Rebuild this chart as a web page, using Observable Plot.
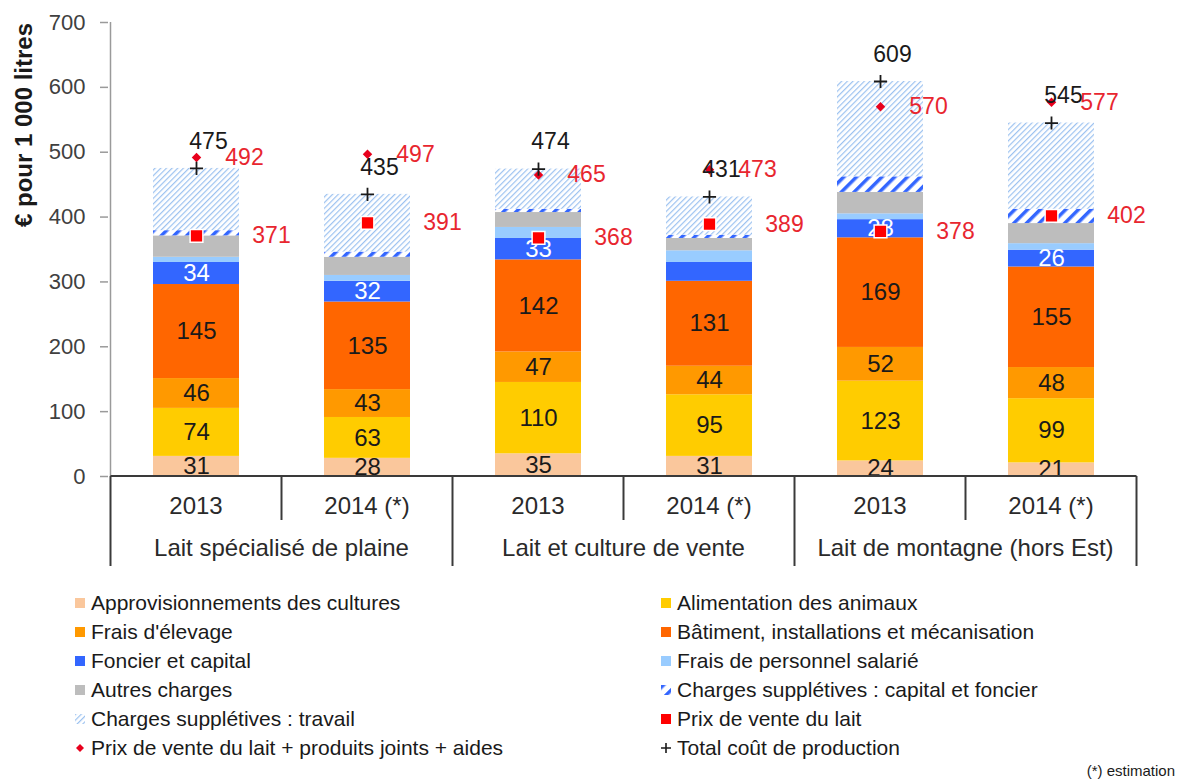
<!DOCTYPE html>
<html><head><meta charset="utf-8">
<script src="https://cdn.jsdelivr.net/npm/d3@7"></script>
<script src="https://cdn.jsdelivr.net/npm/@observablehq/plot@0.6"></script>
<style>
body{margin:0;background:#fff;font-family:"Liberation Sans",Arial,sans-serif;}
#chart{width:1184px;height:588px;overflow:visible}
#legend{display:grid;grid-template-columns:586px 523px;padding-left:75px;line-height:29px;font-size:21px;color:#1a1a1a}
.item{display:flex;align-items:center;white-space:nowrap}
.item svg{flex:none;margin-right:6px}
#note{text-align:right;font-size:15px;padding-right:9px;line-height:18px;color:#1a1a1a}
</style></head><body>
<div id="chart"></div><div id="legend"></div><div id="note">(*) estimation</div>
<script>
// ---- data ----
const groups = ["Lait spécialisé de plaine", "Lait et culture de vente", "Lait de montagne (hors Est)"];
const years = ["2013", "2014 (*)"];
const categories = [
  "Approvisionnements des cultures",
  "Alimentation des animaux",
  "Frais d'élevage",
  "Bâtiment, installations et mécanisation",
  "Foncier et capital",
  "Frais de personnel salarié",
  "Autres charges",
  "Charges supplétives : capital et foncier",
  "Charges supplétives : travail"
];
const approvisionnements = [31, 28, 35, 31, 24, 21];
const alimentation       = [74, 63, 110, 95, 123, 99];
const fraisElevage       = [46, 43, 47, 44, 52, 48];
const batiment           = [145, 135, 142, 131, 169, 155];
const foncier            = [34, 32, 33, 29, 28, 26];
const personnel          = [8, 9, 17, 18, 9, 10];
const autres             = [33, 28, 23, 19, 33, 31];
const suppCapital        = [8, 8, 5, 5, 24, 22];
const suppTravail        = [96, 89, 62, 59, 147, 133];
const prixLait           = [371, 391, 368, 389, 378, 402];
const prixLaitAides      = [492, 497, 465, 473, 570, 577];
const coutTotal          = [475, 435, 474, 431, 609, 545];
const foncierLabelShown  = [true, true, true, false, true, true];
const yTicks = [0, 100, 200, 300, 400, 500, 600, 700];
const yTitle = "€ pour 1 000 litres";
const markerNames = ["Prix de vente du lait", "Prix de vente du lait + produits joints + aides", "Total coût de production"];

// ---- styles ----
const colors = ["#fac79c", "#ffcc00", "#ff9900", "#ff6600", "#3366ff", "#99ccff", "#bdbdbd", "url(#hatchCapital)", "url(#hatchTravail)"];
const red = "#e8262f";

const categoryValues = [approvisionnements, alimentation, fraisElevage, batiment, foncier, personnel, autres, suppCapital, suppTravail];
const bars = groups.flatMap(g => years.map(y => g + "|" + y));
const rows = [];
bars.forEach((k, i) => categoryValues.forEach((vals, j) => {
  const shown = j < 4 || (j === 4 && foncierLabelShown[i]);
  rows.push({bar: k, j, value: vals[i], label: shown ? String(vals[i]) : null});
}));
const markers = bars.map((k, i) => ({bar: k, lait: prixLait[i], aides: prixLaitAides[i], cout: coutTotal[i]}));

const plot = Plot.plot({
  width: 1184, height: 588,
  marginLeft: 108, marginRight: 46, marginTop: 22, marginBottom: 112,
  style: {fontFamily: "Liberation Sans, Arial, sans-serif", fontSize: "22px", color: "#404040", background: "white", overflow: "visible"},
  x: {domain: bars, paddingInner: 0.5, paddingOuter: 0.25, axis: null},
  y: {domain: [0, 700], ticks: yTicks, tickSize: 8, tickPadding: 15, label: null},
  color: {type: "identity"},
  marks: [
    Plot.barY(rows, Plot.stackY({x: "bar", y: "value", fill: d => colors[d.j], z: null})),
    Plot.text(rows, Plot.stackY({x: "bar", y: "value", z: null, text: "label", fill: d => d.j === 4 ? "white" : "#1a1a1a", fontSize: 24})),
    Plot.dot(markers, {x: "bar", y: "lait", symbol: "square", r: 7.2, fill: "#ff0000", stroke: "white", strokeWidth: 1.5}),
    Plot.dot(markers, {x: "bar", y: "aides", symbol: "diamond2", r: 4.3, fill: "#e8001c"}),
    Plot.dot(markers, {x: "bar", y: "cout", symbol: "plus", r: 4.3, stroke: "#1a1a1a", strokeWidth: 1.8}),
    Plot.text(markers, {x: "bar", y: "cout", text: d => String(d.cout), dx: 12, dy: -27, fill: "#1a1a1a", fontSize: 23}),
    Plot.text(markers, {x: "bar", y: "aides", text: d => String(d.aides), dx: 48, fill: red, fontSize: 23}),
    Plot.text(markers, {x: "bar", y: "lait", text: d => String(d.lait), dx: 75, fill: red, fontSize: 23})
  ]
});

const svg = d3.select(plot);
const defs = svg.insert("defs", ":first-child");
const p1 = defs.append("pattern").attr("id", "hatchCapital").attr("patternUnits", "userSpaceOnUse")
  .attr("width", 9).attr("height", 9).attr("patternTransform", "rotate(45)");
p1.append("rect").attr("width", 9).attr("height", 9).attr("fill", "white");
p1.append("rect").attr("width", 3.5).attr("height", 9).attr("fill", "#3366ff");
const p2 = defs.append("pattern").attr("id", "hatchTravail").attr("patternUnits", "userSpaceOnUse")
  .attr("width", 4).attr("height", 4).attr("patternTransform", "rotate(45)");
p2.append("rect").attr("width", 4).attr("height", 4).attr("fill", "white");
p2.append("rect").attr("width", 1.2).attr("height", 4).attr("fill", "#9cc2f0");

// axis styling
svg.selectAll('[aria-label="y-axis"] line, [aria-label="y-axis tick"] path').attr("stroke", "#9a9a9a").attr("stroke-width", 1.5);

const xs = plot.scale("x"), ys = plot.scale("y");
const step = xs.step, bw = xs.bandwidth;
const y0 = ys.apply(0);
const left = xs.apply(bars[0]) - (step - bw) / 2;
// y axis line
svg.append("line").attr("x1", left).attr("x2", left).attr("y1", ys.apply(700)).attr("y2", y0)
  .attr("stroke", "#9a9a9a").attr("stroke-width", 1.5);
// category table
const tg = svg.append("g").attr("stroke", "#3a3a3a").attr("stroke-width", 2);
tg.append("line").attr("x1", left).attr("x2", left + bars.length * step).attr("y1", y0).attr("y2", y0);
for (let k = 0; k <= bars.length; k++) {
  const x = left + k * step;
  tg.append("line").attr("x1", x).attr("x2", x).attr("y1", y0).attr("y2", y0 + (k % 2 === 0 ? 90 : 44));
}
const txt = svg.append("g").attr("font-family", "Liberation Sans, Arial, sans-serif").attr("font-size", 24).attr("fill", "#2a2a2a").attr("text-anchor", "middle");
bars.forEach(k => {
  txt.append("text").attr("x", xs.apply(k) + bw / 2).attr("y", y0 + 30).attr("dy", "0.35em").text(k.split("|")[1]);
});
groups.forEach((g, i) => {
  txt.append("text").attr("x", left + (2 * i + 1) * step).attr("y", y0 + 72).attr("dy", "0.35em").text(g);
});
svg.append("text").attr("transform", `translate(24,125) rotate(-90)`).attr("text-anchor", "middle").attr("dy", "0.35em")
  .attr("font-family", "Liberation Sans, Arial, sans-serif").attr("font-size", 24).attr("font-weight", "bold").attr("fill", "#1a1a1a")
  .text(yTitle);

document.getElementById("chart").appendChild(plot);

// legend
const legendItems = categories.map((c, j) => ({label: c, type: "rect", color: colors[j]}))
  .concat([{label: markerNames[0], type: "rect", color: "#ff0000"},
           {label: markerNames[1], type: "diamond", color: "#e8001c"},
           {label: markerNames[2], type: "plus", color: "#1a1a1a"}]);
const legend = d3.select("#legend");
legendItems.forEach(it => {
  const div = legend.append("div").attr("class", "item");
  const s = div.append("svg").attr("width", 10).attr("height", 10);
  if (it.type === "rect") s.append("rect").attr("width", 10).attr("height", 10).attr("fill", it.color);
  else if (it.type === "diamond") s.append("path").attr("d", "M5,1L9,5L5,9L1,5Z").attr("fill", it.color);
  else s.append("path").attr("d", "M5,0V10M0,5H10").attr("stroke", it.color).attr("stroke-width", 1.6);
  div.append("span").text(it.label);
});
</script>
</body></html>
